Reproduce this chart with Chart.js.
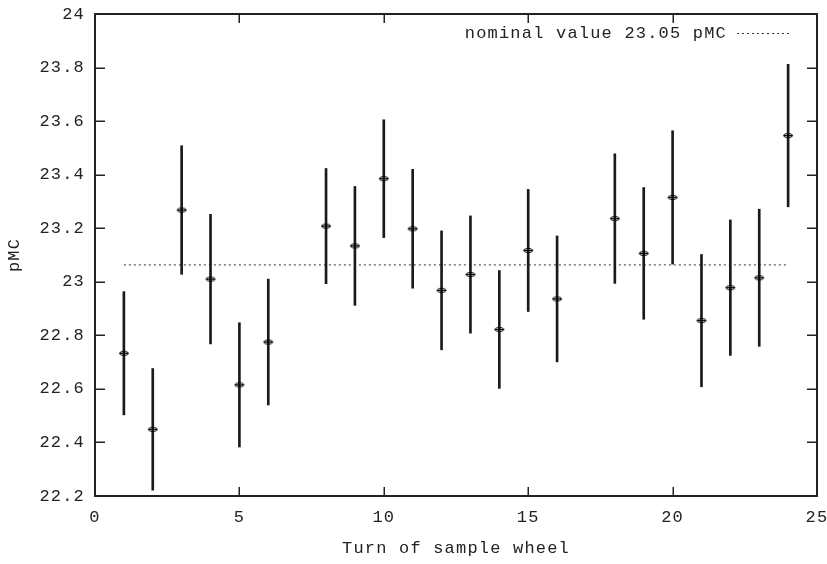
<!DOCTYPE html>
<html>
<head>
<meta charset="utf-8">
<script src="https://cdn.jsdelivr.net/npm/chart.js@4.4.1/dist/chart.umd.min.js"></script>
<style>
html,body{margin:0;padding:0;background:#fff;}
#wrap{width:827px;height:564px;position:relative;}
</style>
</head>
<body>
<div id="wrap"><canvas id="c" width="827" height="564"></canvas></div>
<script>
// ---- data ----
const turns  = [1, 2, 3, 4, 5, 6, 8, 9, 10, 11, 12, 13, 14, 15, 16, 18, 19, 20, 21, 22, 23, 24];
const values = [22.733, 22.449, 23.268, 23.010, 22.615, 22.775, 23.208, 23.134, 23.385, 23.198, 22.968,
                23.027, 22.822, 23.117, 22.936, 23.236, 23.106, 23.315, 22.855, 22.978, 23.015, 23.546];
const errors = [0.230, 0.227, 0.240, 0.242, 0.232, 0.235, 0.215, 0.222, 0.220, 0.222, 0.222,
                0.219, 0.220, 0.228, 0.235, 0.242, 0.246, 0.249, 0.247, 0.253, 0.256, 0.266];
const nominalX = [1, 24];
const nominalY = 23.063;
const nominalLabel = 'nominal value 23.05 pMC';
const xTicks = [0, 5, 10, 15, 20, 25];
const yTicks = [22.2, 22.4, 22.6, 22.8, 23, 23.2, 23.4, 23.6, 23.8, 24];
const yTickLabels = ['22.2', '22.4', '22.6', '22.8', '23', '23.2', '23.4', '23.6', '23.8', '24'];
const xTitle = 'Turn of sample wheel';
const yTitle = 'pMC';

const FONT = {family: '"Liberation Mono", "DejaVu Sans Mono", monospace', size: 17};
const LS = '1.2px';
const INK = '#222';

// marker: small ellipse with horizontal stroke
const mk = document.createElement('canvas');
mk.width = 12; mk.height = 7;
(function(){
  const g = mk.getContext('2d');
  g.strokeStyle = '#000'; g.lineWidth = 1;
  g.beginPath(); g.ellipse(6, 3.5, 4.5, 2, 0, 0, Math.PI * 2); g.stroke();
  g.beginPath(); g.moveTo(1.5, 3.5); g.lineTo(10.5, 3.5); g.stroke();
})();

const frame = {
  id: 'frame',
  beforeDraw(chart) { chart.ctx.letterSpacing = LS; },
  afterDraw(chart) {
    const {ctx, chartArea: a, scales: {x, y}} = chart;
    ctx.save();
    ctx.setTransform(1, 0, 0, 1, 0, 0);
    ctx.globalAlpha = 1;
    ctx.globalCompositeOperation = 'source-over';
    ctx.fillStyle = INK;
    const L = Math.round(a.left), R = Math.round(a.right), T = Math.round(a.top), B = Math.round(a.bottom);
    // frame
    ctx.fillRect(L - 1, T - 1, R - L + 2, 2);
    ctx.fillRect(L - 1, B - 1, R - L + 2, 2);
    ctx.fillRect(L - 1, T - 1, 2, B - T + 2);
    ctx.fillRect(R - 1, T - 1, 2, B - T + 2);
    // inward ticks on all four sides
    xTicks.forEach(v => {
      const px = Math.round(x.getPixelForValue(v));
      ctx.fillRect(px - 0.5, B - 9, 1.5, 9);
      ctx.fillRect(px - 0.5, T, 1.5, 9);
    });
    yTicks.forEach(v => {
      const py = Math.round(y.getPixelForValue(v));
      ctx.fillRect(L, py - 0.5, 10, 1.5);
      ctx.fillRect(R - 10, py - 0.5, 10, 1.5);
    });
    // key
    ctx.letterSpacing = LS;
    ctx.font = `${FONT.size}px ${FONT.family}`;
    ctx.textAlign = 'right'; ctx.textBaseline = 'middle';
    const ky = T + 19;
    ctx.fillText(nominalLabel, R - 90, ky);
    ctx.fillStyle = '#333';
    for (let sx = R - 80; sx < R - 27; sx += 5) ctx.fillRect(sx, ky, 2, 1);
    ctx.restore();
  }
};

new Chart(document.getElementById('c'), {
  type: 'scatter',
  data: {
    datasets: [
      {
        type: 'line',
        data: nominalX.map(t => ({x: t, y: nominalY})),
        borderColor: '#333', borderWidth: 1, borderDash: [2, 3],
        pointRadius: 0, fill: false, order: 3
      },
      {
        type: 'bar',
        data: turns.map((t, i) => ({x: t, y: [values[i] - errors[i], values[i] + errors[i]]})),
        backgroundColor: '#1a1a1a', borderWidth: 0, barThickness: 2, grouped: false, order: 2
      },
      {
        type: 'scatter',
        data: turns.map((t, i) => ({x: t, y: values[i]})),
        pointStyle: mk, pointRadius: 5, order: 1
      }
    ]
  },
  options: {
    responsive: false, animation: false, events: [],
    layout: {padding: {left: 0, right: 10, top: 14, bottom: 0}},
    plugins: {legend: {display: false}, tooltip: {enabled: false}},
    scales: {
      x: {
        type: 'linear', min: 0, max: 25, offset: false,
        afterBuildTicks: s => { s.ticks = xTicks.map(v => ({value: v})); },
        afterFit: s => { s.height = 68; s.paddingLeft = 0; s.paddingRight = 0; },
        grid: {display: false, drawTicks: false},
        border: {display: false},
        ticks: {font: FONT, color: INK, padding: 11, maxRotation: 0, autoSkip: false,
                callback: v => String(v)},
        title: {display: true, text: xTitle, font: FONT, color: INK, padding: {top: 0, bottom: 5}}
      },
      y: {
        type: 'linear', min: 22.2, max: 24,
        afterBuildTicks: s => { s.ticks = yTicks.map(v => ({value: v})); },
        afterFit: s => { s.width = 95; s.paddingTop = 0; s.paddingBottom = 0; },
        grid: {display: false, drawTicks: false},
        border: {display: false},
        ticks: {font: FONT, color: INK, padding: 10, autoSkip: false,
                callback: v => { const i = yTicks.findIndex(t => Math.abs(t - v) < 1e-6); return i >= 0 ? yTickLabels[i] : ''; }},
        title: {display: true, text: yTitle, font: FONT, color: INK, padding: {top: 4, bottom: 0}}
      }
    }
  },
  plugins: [frame]
});
</script>
</body>
</html>
